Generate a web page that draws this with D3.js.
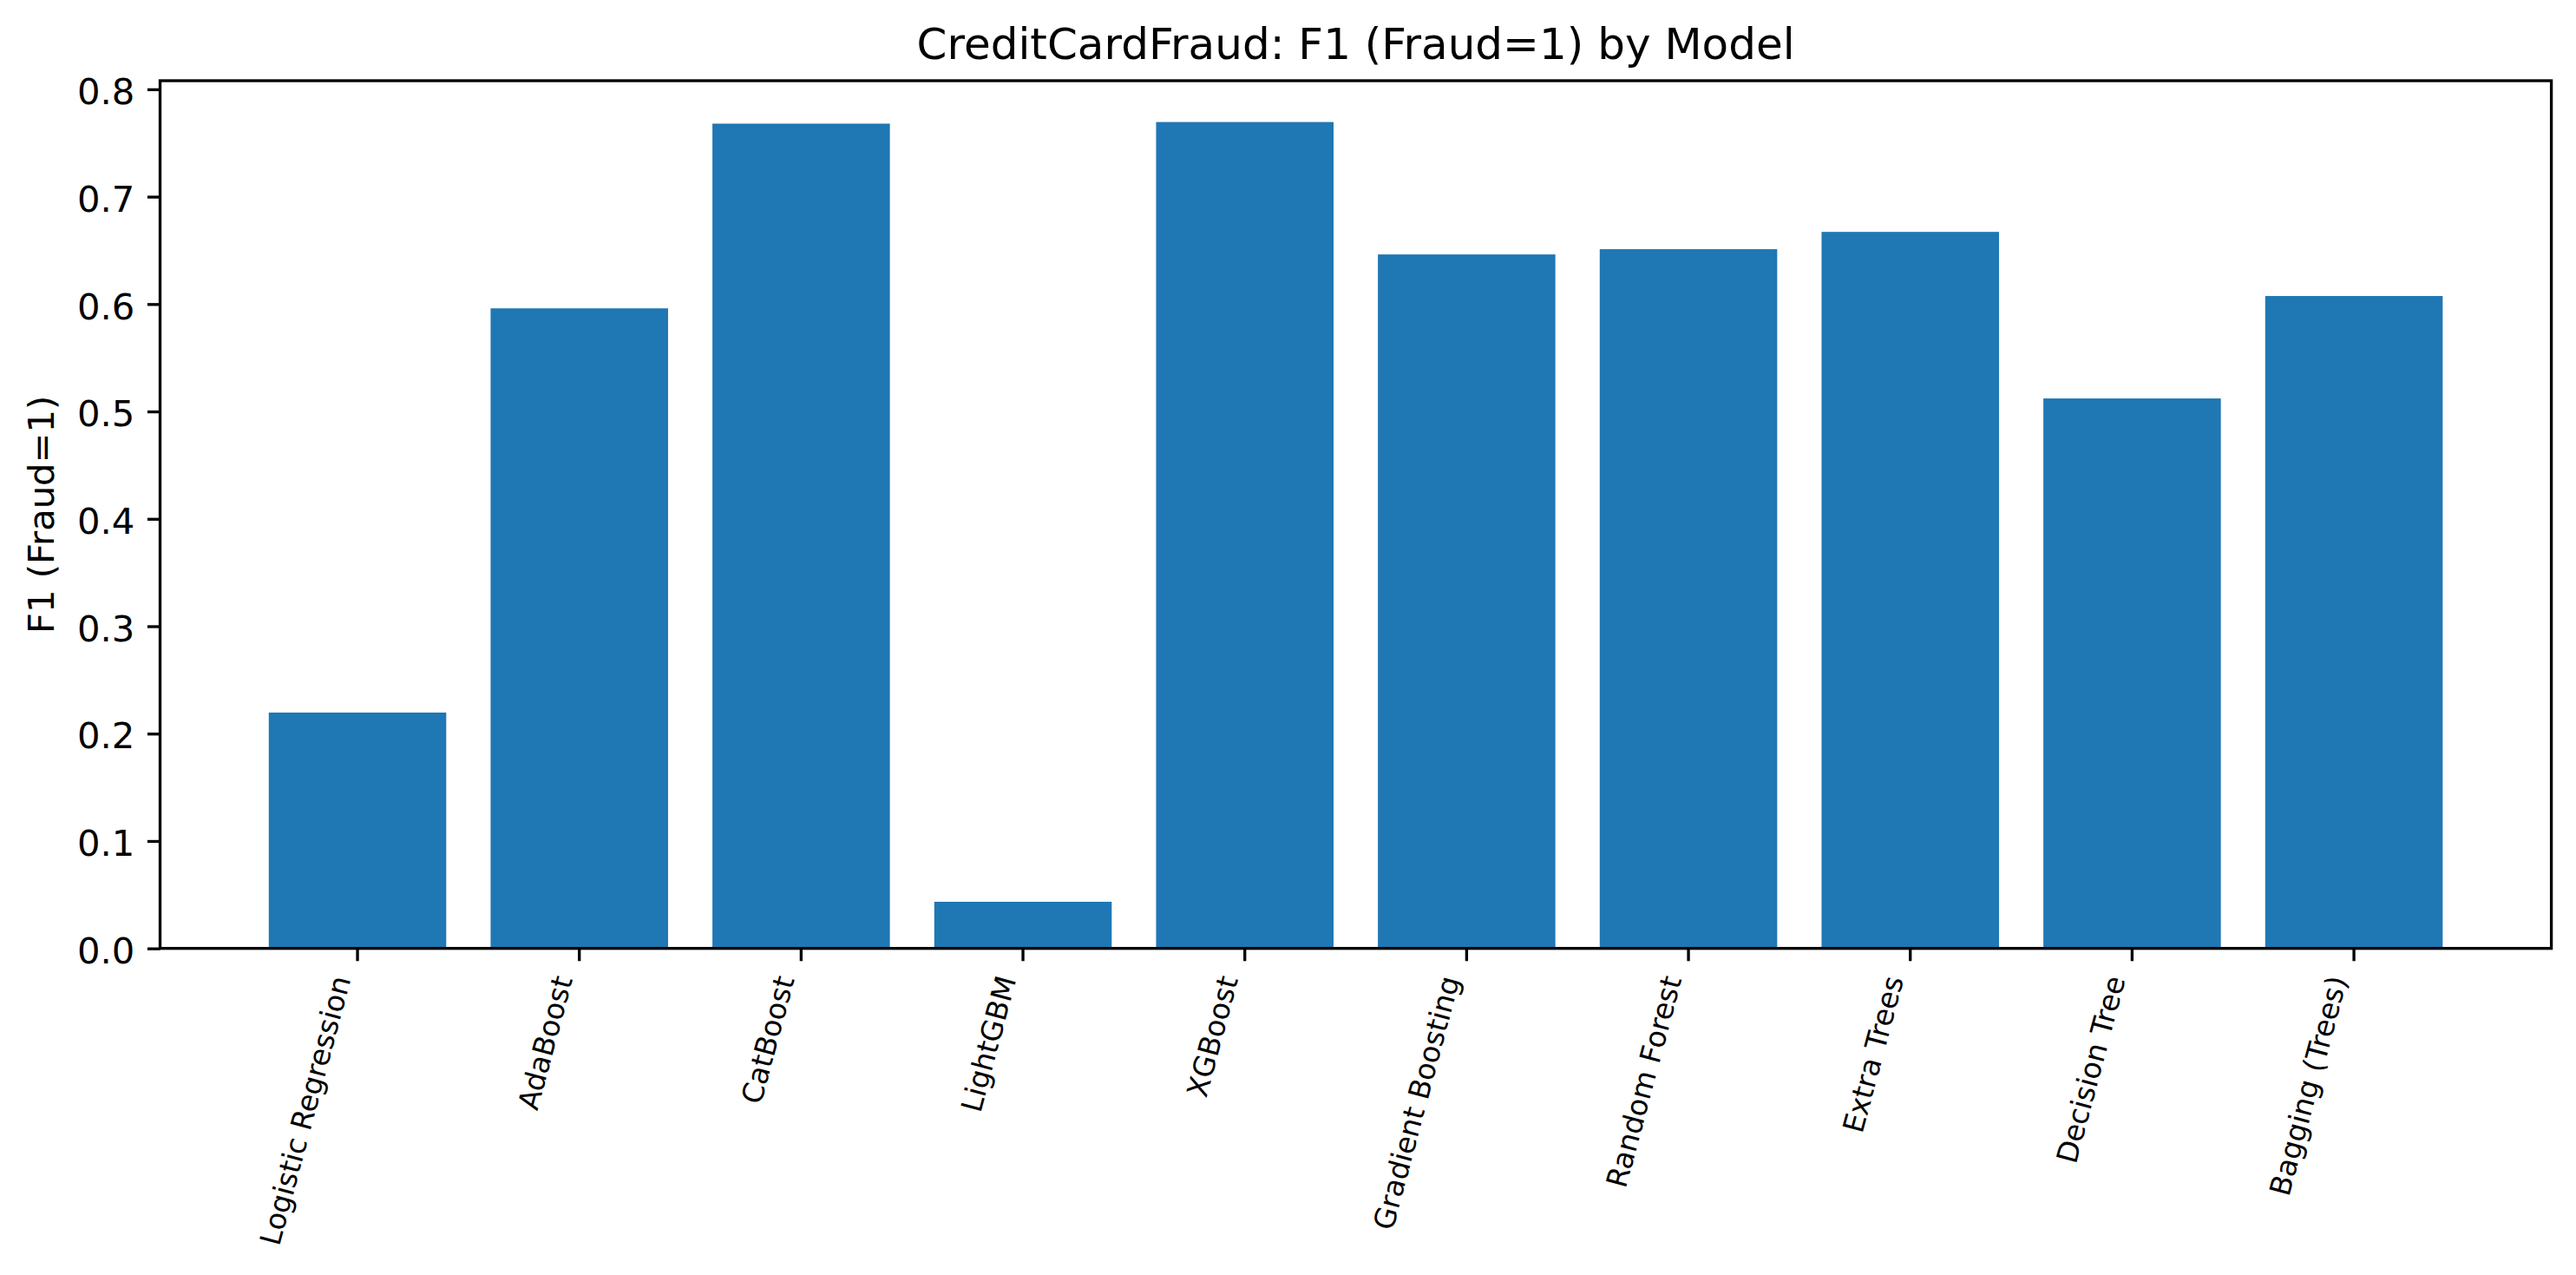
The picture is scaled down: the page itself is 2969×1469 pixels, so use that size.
<!DOCTYPE html>
<html>
<head>
<meta charset="utf-8">
<script src="https://cdn.jsdelivr.net/npm/d3@7"></script>
<style>
  body { margin: 0; background: #fff; }
  text { font-family: "DejaVu Sans", sans-serif; fill: #000; }
</style>
</head>
<body>
<div id="chart"></div>
<script>
// data
const models = ["Logistic Regression", "AdaBoost", "CatBoost", "LightGBM", "XGBoost",
  "Gradient Boosting", "Random Forest", "Extra Trees", "Decision Tree", "Bagging (Trees)"];
const f1Scores = [0.2196, 0.596, 0.768, 0.0434, 0.7695, 0.6462, 0.6511, 0.6672, 0.5121, 0.6075];
const yTicks = [0, 0.1, 0.2, 0.3, 0.4, 0.5, 0.6, 0.7, 0.8];

const W = 2969, H = 1469;
const margin = { top: 93, right: W - 2940.6, bottom: H - 1092.7, left: 184.5 };
const width = W - margin.left - margin.right;
const height = H - margin.top - margin.bottom;
const tickLen = 14.6;
const lineW = 3.33;

const svg = d3.select("#chart")
  .append("svg")
  .attr("width", W)
  .attr("height", H);

const g = svg.append("g")
  .attr("transform", `translate(${margin.left},${margin.top})`);

const x = d3.scaleBand()
  .domain(models)
  .range([0, width])
  .paddingInner(0.2)
  .paddingOuter(0.49);

const y = d3.scaleLinear()
  .domain([0, d3.max(f1Scores) * 1.05])
  .range([height, 0]);

// bars
g.selectAll(".bar")
  .data(models.map((m, i) => ({ model: m, value: f1Scores[i] })))
  .enter().append("rect")
  .attr("class", "bar")
  .attr("x", d => x(d.model))
  .attr("width", x.bandwidth())
  .attr("y", d => y(d.value))
  .attr("height", d => height - y(d.value))
  .attr("fill", "#1f77b4");

// y axis
const yAxis = g.append("g")
  .call(d3.axisLeft(y).tickValues(yTicks).tickFormat(d3.format(".1f"))
    .tickSize(tickLen).tickPadding(14.6).tickSizeOuter(0));
yAxis.select(".domain").remove();
yAxis.selectAll("line").attr("stroke", "#000").attr("stroke-width", lineW);
yAxis.selectAll("text")
  .attr("dy", "0.4em")
  .style("font-size", "41.7px")
  .style("font-family", "DejaVu Sans");

// x axis
const xAxis = g.append("g")
  .attr("transform", `translate(0,${height})`)
  .call(d3.axisBottom(x).tickSize(tickLen).tickSizeOuter(0));
xAxis.select(".domain").remove();
xAxis.selectAll("line").attr("stroke", "#000").attr("stroke-width", lineW);
xAxis.selectAll("text")
  .attr("y", null)
  .attr("dy", null)
  .attr("transform", "translate(-7.6,35.5) rotate(-75)")
  .style("text-anchor", "end")
  .style("font-size", "33.3px")
  .style("font-family", "DejaVu Sans");

// frame (spines)
g.append("rect")
  .attr("x", 0)
  .attr("y", 0)
  .attr("width", width)
  .attr("height", height)
  .attr("fill", "none")
  .attr("stroke", "#000")
  .attr("stroke-width", lineW)
  .attr("stroke-linejoin", "miter");

// y label
svg.append("text")
  .attr("transform", `translate(61.7,${margin.top + height / 2}) rotate(-90)`)
  .style("text-anchor", "middle")
  .style("font-size", "41.7px")
  .text("F1 (Fraud=1)");

// title
svg.append("text")
  .attr("x", margin.left + width / 2)
  .attr("y", 68.3)
  .style("text-anchor", "middle")
  .style("font-size", "50px")
  .text("CreditCardFraud: F1 (Fraud=1) by Model");
</script>
</body>
</html>
